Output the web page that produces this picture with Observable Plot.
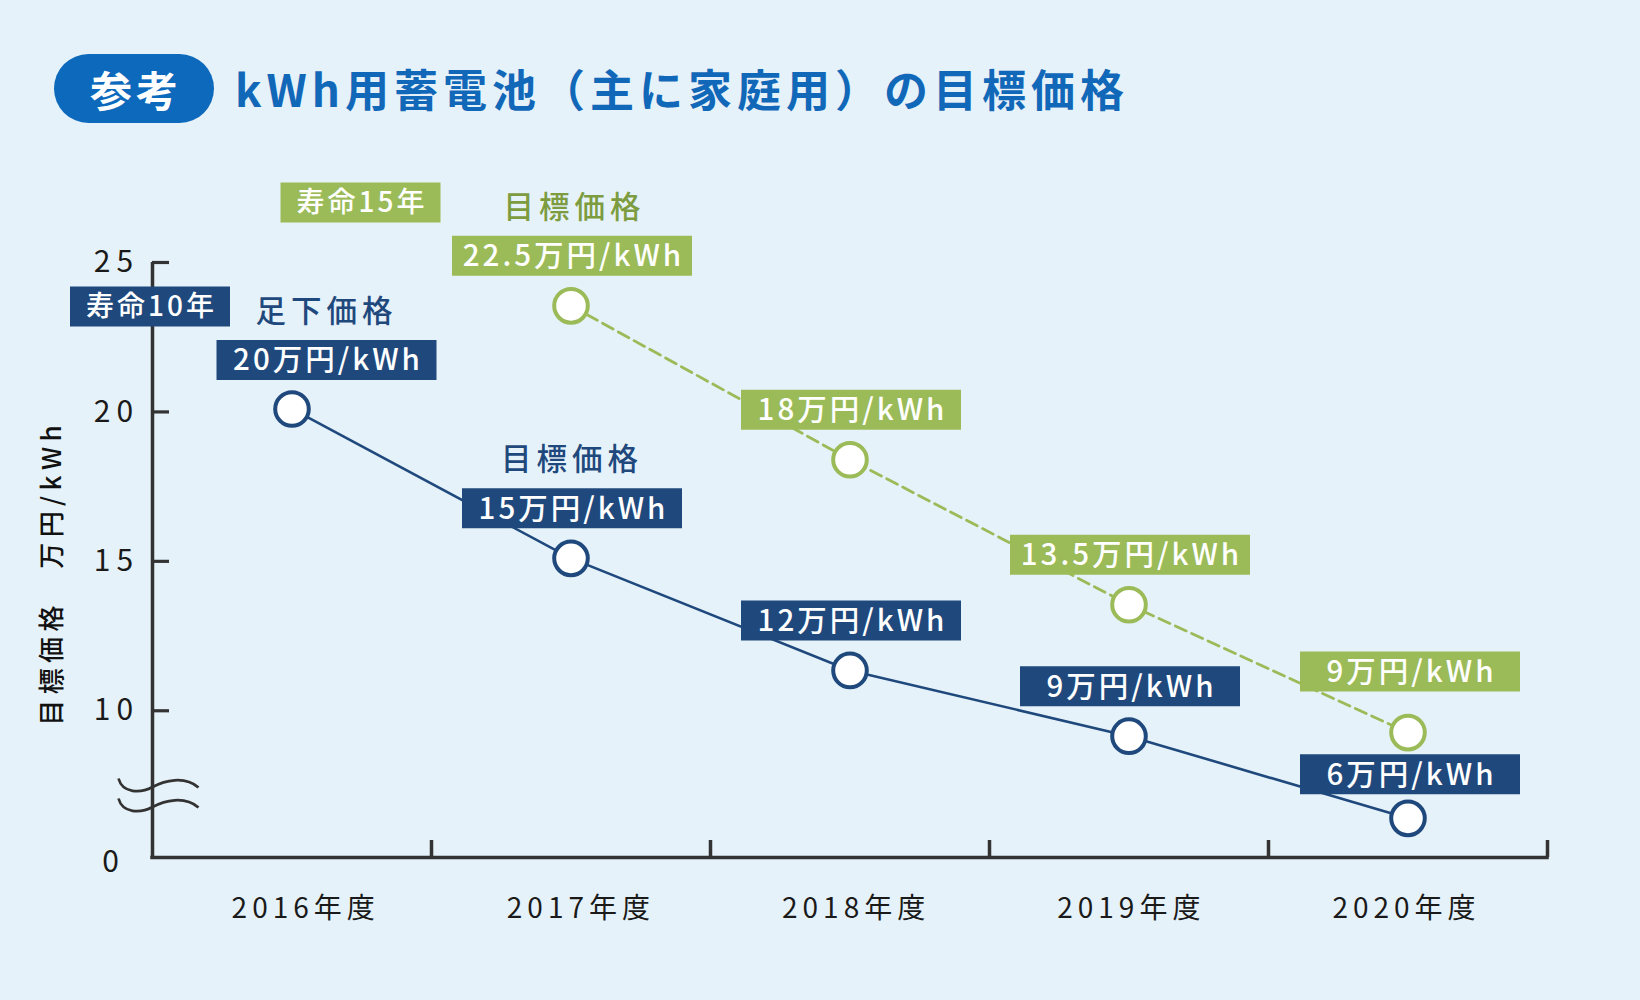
<!DOCTYPE html>
<html lang="ja">
<head>
<meta charset="utf-8">
<script src="https://cdn.jsdelivr.net/npm/d3@7"></script>
<script src="https://cdn.jsdelivr.net/npm/@observablehq/plot@0.6"></script>
<style>
  html, body { margin: 0; padding: 0; background: #e6f2f9; }
  body { width: 1640px; height: 1000px; overflow: hidden; font-family: "Noto Sans CJK JP", sans-serif; }
  #head { position: relative; height: 140px; }
  #pill { position: absolute; left: 54px; top: 54px; width: 160px; height: 69px; border-radius: 35px;
          background: #0d69bc; color: #fff; font-weight: 700; font-size: 42px; letter-spacing: 4px;
          display: flex; align-items: center; justify-content: center; text-indent: 4px; }
  #title { position: absolute; left: 235px; top: 66px; font-size: 44px; line-height: 1; font-weight: 700;
           color: #1268b8; letter-spacing: 5px; white-space: nowrap; }
  #chart svg { display: block; }
  g[aria-label="y-axis tick label"] text { letter-spacing: 6px; }
  g[aria-label="x-axis tick label"] text { letter-spacing: 5px; }
</style>
</head>
<body>
<div id="head">
  <div id="pill">参考</div>
  <div id="title">kWh用蓄電池（主に家庭用）の目標価格</div>
</div>
<div id="chart"></div>
<script>
// ---- data ----
const fiscalYears = [2016, 2017, 2018, 2019, 2020];
const seriesNames = ["寿命10年", "寿命15年"];
const life10Values = [20.1, 15.1, 11.35, 9.15, 6.4];
const life10Labels = ["20万円/kWh", "15万円/kWh", "12万円/kWh", "9万円/kWh", "6万円/kWh"];
const life15Years = [2017, 2018, 2019, 2020];
const life15Values = [23.55, 18.4, 13.55, 9.27];
const life15Labels = ["22.5万円/kWh", "18万円/kWh", "13.5万円/kWh", "9万円/kWh"];
const yTicks = [10, 15, 20, 25];
const zeroLabel = "0";
const yTitle = "目標価格　万円/kWh";
const notes = { current: "足下価格", target: "目標価格" };

// ---- styling ----
const NAVY = "#1f497d", GREEN = "#9bbb59", GREEN_TXT = "#7d9c40", AXIS = "#333333", INK = "#1a1a1a";
const FONT = "Noto Sans CJK JP";
const LS_BOX = 3, LS_LEGEND = 3, LS_NOTE = 5, LS_TITLE = 5.4, LS_ZERO = 6, LS_X = 5;

const rows10 = fiscalYears.map((year, i) => ({series: seriesNames[0], year, value: life10Values[i], label: life10Labels[i]}));
const rows15 = life15Years.map((year, i) => ({series: seriesNames[1], year, value: life15Values[i], label: life15Labels[i]}));

const xDomain = [d3.min(fiscalYears) - 0.5, d3.max(fiscalYears) + 0.5];
const yDomain = [5.09, d3.max(yTicks)];

function rectSymbol(w, h) { return {draw(ctx) { ctx.rect(-w / 2, -h / 2, w, h); }}; }
const breakSymbol = {draw(ctx) {
  for (const o of [0, 20]) {
    ctx.moveTo(-34, -79 + o);
    ctx.bezierCurveTo(-30, -64 + o, -12, -64 + o, 0, -70.5 + o);
    ctx.bezierCurveTo(12, -77 + o, 32, -82 + o, 46, -70 + o);
  }
}};

function offsetFor(r) {
  let dx = 1, dy = -50;
  if (r.series === seriesNames[0] && r.year === 2016) { dx = 34.5; dy = -49; }
  if (r.series === seriesNames[0] && r.year === 2020) { dx = 2; dy = -44; }
  if (r.series === seriesNames[1] && r.year === 2020) { dx = 2; dy = -61; }
  return {dx, dy};
}

const labelMarks = [...rows10, ...rows15].flatMap(r => {
  const {dx, dy} = offsetFor(r);
  const fill = r.series === seriesNames[0] ? NAVY : GREEN;
  const w = r.label.includes(".") ? 240 : 220;
  return [
    Plot.dot([r], {x: "year", y: "value", symbol: rectSymbol(w, 40), fill, stroke: "none", dx, dy}),
    Plot.text([r], {x: "year", y: "value", text: "label", fill: "#ffffff", fontSize: 29.5, fontWeight: 500,
                    fontFamily: FONT, dx: dx + LS_BOX / 2, dy: dy + 1})
  ];
});

// the reference's year labels sit on a slightly tighter pitch than the bands
const xLabelAxes = fiscalYears.map((year, i) =>
  Plot.axisX({ticks: [year], tickSize: 0, tickPadding: 41, tickFormat: d => `${d}年度`, fontSize: 28, fill: INK,
              dx: 11.2 - 3.8 * i + LS_X / 2, label: null}));

const legendText = {fill: "#fff", fontSize: 28, fontWeight: 500, textAnchor: "middle", lineAnchor: "middle"};

const chart = Plot.plot({
  width: 1640,
  height: 860,
  marginLeft: 152,
  marginRight: 93,
  marginTop: 122,
  marginBottom: 143,
  style: {background: "transparent", fontFamily: FONT, overflow: "visible"},
  x: {type: "linear", domain: xDomain},
  y: {type: "linear", domain: yDomain},
  marks: [
    // axis lines
    Plot.ruleX([xDomain[0]], {y1: yDomain[0], y2: d3.max(yTicks), stroke: AXIS, strokeWidth: 3.5}),
    Plot.ruleY([yDomain[0]], {x1: xDomain[0], x2: xDomain[1], stroke: AXIS, strokeWidth: 3.5, strokeLinecap: "square"}),
    // y ticks (inward) and labels
    Plot.axisY({ticks: yTicks, tickSize: -17, tickFormat: () => "", stroke: AXIS, strokeWidth: 3.2, label: null}),
    Plot.axisY({ticks: yTicks, tickSize: 0, tickPadding: 39 - LS_ZERO / 2, textAnchor: "middle", fontSize: 30, fill: INK, label: null}),
    // x ticks at fiscal-year boundaries (inward) and labels
    Plot.axisX({ticks: fiscalYears.map(d => d + 0.5), tickSize: -17, tickFormat: () => "", stroke: AXIS, strokeWidth: 3.5, label: null}),
    ...xLabelAxes,
    // "0" at the broken baseline and the break mark
    Plot.text([zeroLabel], {x: null, y: null, frameAnchor: "bottom-left", text: d => d, dx: -39, dy: 5, fontSize: 30, fill: INK, textAnchor: "middle", lineAnchor: "middle"}),
    Plot.dot([0], {x: null, y: null, frameAnchor: "bottom-left", symbol: breakSymbol, fill: "none", stroke: AXIS, strokeWidth: 2.7}),
    // y title
    Plot.text([yTitle], {x: null, y: null, frameAnchor: "left", text: d => d, rotate: -90, textAnchor: "middle", lineAnchor: "middle",
                         dx: -100, dy: 15.5 - LS_TITLE / 2, fontSize: 26, fontWeight: 500, fill: "#111"}),
    // lines
    Plot.line(rows10, {x: "year", y: "value", stroke: NAVY, strokeWidth: 2.6}),
    Plot.line(rows15, {x: "year", y: "value", stroke: GREEN, strokeWidth: 2.8, strokeDasharray: "12,6"}),
    // value label boxes
    ...labelMarks,
    // legend boxes
    Plot.dot([seriesNames[1]], {x: null, y: null, frameAnchor: "top-left", symbol: rectSymbol(160, 40), fill: GREEN, stroke: "none", dx: 208, dy: -60}),
    Plot.text([seriesNames[1]], {x: null, y: null, frameAnchor: "top-left", text: d => d, ...legendText, dx: 208 + LS_LEGEND / 2, dy: -59}),
    Plot.dot([seriesNames[0]], {x: null, y: null, frameAnchor: "top-left", symbol: rectSymbol(160, 40), fill: NAVY, stroke: "none", dx: -2.5, dy: 44}),
    Plot.text([seriesNames[0]], {x: null, y: null, frameAnchor: "top-left", text: d => d, ...legendText, dx: -2.5 + LS_LEGEND / 2, dy: 45}),
    // annotations
    Plot.text(rows10.filter(r => r.year === 2016), {x: "year", y: "value", text: () => notes.current, fill: NAVY, fontSize: 30.5, fontWeight: 500, dx: 32 + LS_NOTE / 2, dy: -97}),
    Plot.text(rows10.filter(r => r.year === 2017), {x: "year", y: "value", text: () => notes.target, fill: NAVY, fontSize: 30.5, fontWeight: 500, dx: -1.5 + LS_NOTE / 2, dy: -98.5}),
    Plot.text(rows15.filter(r => r.year === 2017), {x: "year", y: "value", text: () => notes.target, fill: GREEN_TXT, fontSize: 30.5, fontWeight: 500, dx: 1 + LS_NOTE / 2, dy: -98}),
    // points
    Plot.dot(rows10, {x: "year", y: "value", r: 16.8, fill: "#ffffff", stroke: NAVY, strokeWidth: 4}),
    Plot.dot(rows15, {x: "year", y: "value", r: 16.8, fill: "#ffffff", stroke: GREEN, strokeWidth: 4})
  ]
});

// letter-spacing for the annotation texts (Plot has no letter-spacing option)
const spacing = new Map([
  ...[...life10Labels, ...life15Labels].map(t => [t, LS_BOX]),
  ...seriesNames.map(t => [t, LS_LEGEND]),
  ...Object.values(notes).map(t => [t, LS_NOTE]),
  [yTitle, LS_TITLE],
  [zeroLabel, LS_ZERO]
]);
chart.querySelectorAll("text").forEach(t => {
  const s = spacing.get(t.textContent);
  if (s != null) t.style.letterSpacing = s + "px";
});
document.getElementById("chart").appendChild(chart);
</script>
</body>
</html>
